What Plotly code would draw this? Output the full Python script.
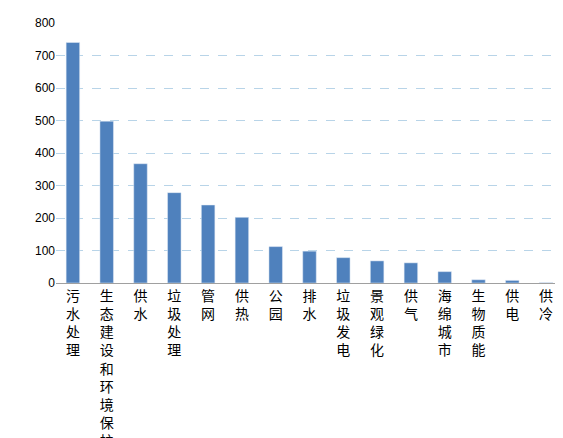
import plotly.graph_objects as go

categories = ["污水处理", "生态建设和环境保护", "供水", "垃圾处理", "管网", "供热", "公园", "排水",
              "垃圾发电", "景观绿化", "供气", "海绵城市", "生物质能", "供电", "供冷"]
values = [740, 498, 367, 278, 240, 202, 112, 98, 78, 68, 62, 35, 10, 8, 1]

# vertical labels: one character per line
ticktext = ["<br>".join(c) for c in categories]

fig = go.Figure(go.Bar(x=categories, y=values, marker_color="#4F81BD", width=0.4))
fig.update_layout(
    width=563, height=438,
    margin=dict(l=48, r=8, t=12, b=163),
    plot_bgcolor="white", paper_bgcolor="white",
    showlegend=False,
    font=dict(family="Noto Sans CJK SC", color="black"),
)
fig.update_xaxes(tickmode="array", tickvals=categories, ticktext=ticktext, tickangle=0,
                 tickfont=dict(size=14), showline=True, linecolor="#a0a0a0", ticks="",
                 automargin=False)
fig.update_yaxes(range=[0, 800], dtick=100, tickfont=dict(size=12, family="Liberation Sans"),
                 gridcolor="#b8d4e8", griddash="dash", zeroline=False, showline=False)
fig.write_html("out.html")
